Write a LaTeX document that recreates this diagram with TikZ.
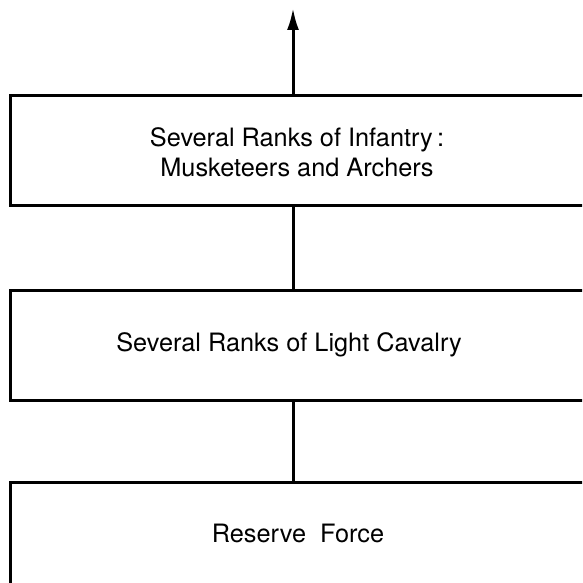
\documentclass[tikz,border=0pt]{standalone}
\usepackage{fontspec}
\setmainfont{TeX Gyre Heros}
\usetikzlibrary{arrows.meta}
\begin{document}
\begin{tikzpicture}[x=1pt,y=-1pt,
  boxstyle/.style={draw=black,line width=3pt,rectangle,inner sep=0pt},
  lbl/.style={font=\fontsize{25.3}{30}\selectfont,align=center,inner sep=0pt},
  link/.style={draw=black,line width=3pt}]
\useasboundingbox (0,0) rectangle (582,583);
\clip (0,0) rectangle (582,583);
\node[boxstyle,minimum width=590pt,minimum height=109pt] (top) at (305,150.5) {};
\node[boxstyle,minimum width=590pt,minimum height=110pt] (mid) at (305,345) {};
\node[boxstyle,minimum width=590pt,minimum height=140pt] (bot) at (305,552) {};
\coordinate (tip) at (293,8);
\node[lbl] (t1) at (297,152) {Several Ranks of Infantry\,:\\Musketeers and Archers};
\node[lbl] (t2) at (289,345) {Several Ranks of Light Cavalry};
\node[lbl] (t3) at (298,533) {Reserve\ \ Force};
\draw[link,-{Latex[length=22pt,width=12pt]}] (top.north -| tip) -- (tip);
\draw[link] (mid.north -| tip) -- (top.south -| tip);
\draw[link] (bot.north -| tip) -- (mid.south -| tip);
\end{tikzpicture}
\end{document}
